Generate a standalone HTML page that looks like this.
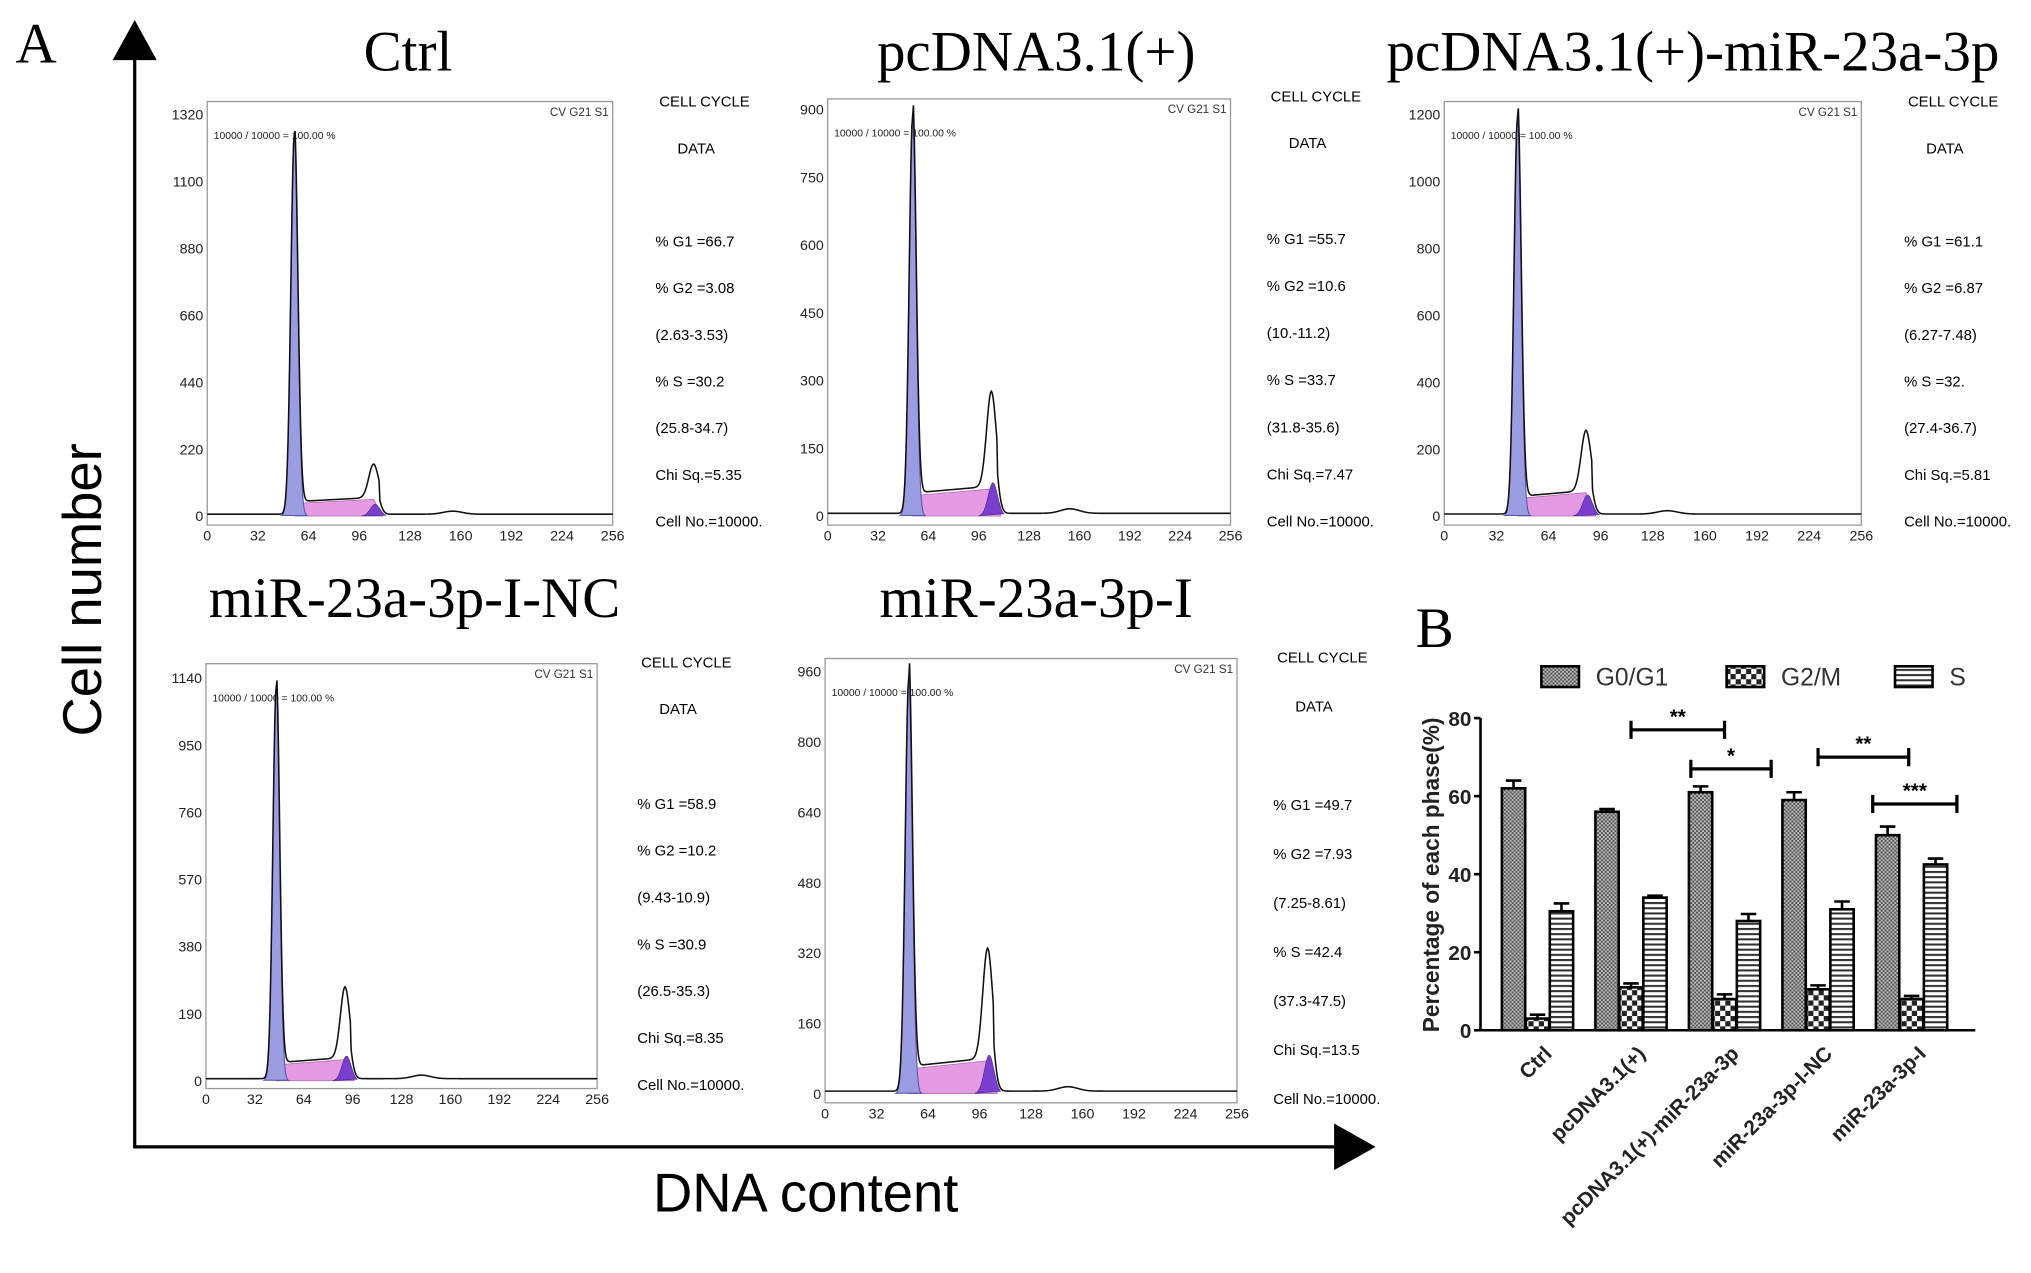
<!DOCTYPE html>
<html><head><meta charset="utf-8"><style>
html,body{margin:0;padding:0;background:#fff}
svg{display:block}
.serif{font-family:"Liberation Serif",serif}
.sans{font-family:"Liberation Sans",sans-serif}
</style></head><body>
<svg id="fig" width="2031" height="1273" viewBox="0 0 1568 982" xmlns="http://www.w3.org/2000/svg">
<defs>
<pattern id="pG1" width="3" height="3" patternUnits="userSpaceOnUse"><rect width="3" height="3" fill="#bbb"/><rect width="1.5" height="1.5" fill="#555"/><rect x="1.5" y="1.5" width="1.5" height="1.5" fill="#555"/></pattern>
<pattern id="pG2" width="8" height="8" patternUnits="userSpaceOnUse"><rect width="8" height="8" fill="#fff"/><rect width="4" height="4" fill="#222"/><rect x="4" y="4" width="4" height="4" fill="#222"/></pattern>
<pattern id="pS" width="4" height="4" patternUnits="userSpaceOnUse"><rect width="4" height="4" fill="#fff"/><rect width="4" height="1.6" fill="#333"/></pattern>
</defs>
<g id="panelA"></g>
<g id="panelB"></g>
</svg>
<script>
// ---- Panel B data ----
const categories = ["Ctrl","pcDNA3.1(+)","pcDNA3.1(+)-miR-23a-3p","miR-23a-3p-I-NC","miR-23a-3p-I"];
const seriesNames = ["G0/G1","G2/M","S"];
const g1Values = [62, 56, 61, 59, 50];
const g2Values = [3, 11, 8, 10.5, 8];
const sValues = [30.5, 34, 28, 31, 42.5];
const g1Err = [2, 0.7, 1.5, 2, 2.2];
const g2Err = [1, 1, 1.2, 1, 0.8];
const sErr = [2, 0.5, 1.8, 2, 1.5];
const yTicks = [0, 20, 40, 60, 80];
const sigLabels = ["**","*","**","***"];
const sigLevels = [77, 67, 70, 58];

// ---- Panel A data ----
const panelTitles = ["Ctrl","pcDNA3.1(+)","pcDNA3.1(+)-miR-23a-3p","miR-23a-3p-I-NC","miR-23a-3p-I"];
const histYTicks = [[0,220,440,660,880,1100,1320],[0,150,300,450,600,750,900],[0,200,400,600,800,1000,1200],[0,190,380,570,760,950,1140],[0,160,320,480,640,800,960]];
const xTicks = [0,32,64,96,128,160,192,224,256];
const g1Channel = [55, 54, 45, 46, 52];
const g2Channel = [105, 104, 87, 91, 101];
const g1Peak = [1250, 880, 1190, 1110, 940];
const g2Peak = [110, 210, 180, 200, 250];
const sLevel = [55, 60, 70, 60, 75];
const infoG1 = ["66.7","55.7","61.1","58.9","49.7"];
const infoG2 = ["3.08","10.6","6.87","10.2","7.93"];
const infoG2r = ["(2.63-3.53)","(10.-11.2)","(6.27-7.48)","(9.43-10.9)","(7.25-8.61)"];
const infoS = ["30.2","33.7","32.","30.9","42.4"];
const infoSr = ["(25.8-34.7)","(31.8-35.6)","(27.4-36.7)","(26.5-35.3)","(37.3-47.5)"];
const infoChi = ["5.35","7.47","5.81","8.35","13.5"];

const NS = "http://www.w3.org/2000/svg";
function mk(parent, tag, attrs, text){
  const e = document.createElementNS(NS, tag);
  for (const k in attrs) e.setAttribute(k, attrs[k]);
  if (text !== undefined) e.textContent = text;
  parent.appendChild(e); return e;
}
const A = document.getElementById('panelA');
const B = document.getElementById('panelB');

const frames = [
 {x0:160,x1:473,top:78,bot:405,y0:398,yTop:88,title:[315,40],info:[506,78,114,186]},
 {x0:639,x1:950,top:76,bot:405,y0:398,yTop:84,title:[800,40],info:[978,74,110,184]},
 {x0:1115,x1:1437,top:78,bot:405,y0:398,yTop:88,title:[1307,40],info:[1470,78,114,186]},
 {x0:159,x1:461,top:512,bot:840,y0:834,yTop:523,title:[320,462],info:[492,511,547,620]},
 {x0:637,x1:955,top:508,bot:851,y0:844,yTop:518,title:[800,462],info:[983,507,545,621]}
];

let e;
e = mk(A,'text',{x:12,y:48,'font-size':44,class:'serif'},'A');
 
e = mk(A,'line',{x1:104,y1:40,x2:104,y2:886,stroke:'#000','stroke-width':2.5});
 
e = mk(A,'polygon',{points:'104,15 87,46 121,46',fill:'#000'});
 
e = mk(A,'line',{x1:103,y1:885,x2:1035,y2:885,stroke:'#000','stroke-width':2.5});
 
e = mk(A,'polygon',{points:'1062,885 1030,867 1030,903',fill:'#000'});
 
e = mk(A,'text',{x:78,y:455,'font-size':42,class:'sans','text-anchor':'middle',transform:'rotate(-90 78 455)'},'Cell number');
 
e = mk(A,'text',{x:622,y:935,'font-size':42,class:'sans','text-anchor':'middle'},'DNA content');
 

function gauss(c, mu, sd){ return Math.exp(-0.5*((c-mu)/sd)**2); }

frames.forEach((f,i)=>{
  const g = mk(A,'g',{});
  
  
  const yMax = histYTicks[i][histYTicks[i].length-1];
  const sx = c => f.x0 + (c/256)*(f.x1-f.x0);
  const sy = v => f.y0 - (v/yMax)*(f.y0-f.yTop);
  e = mk(g,'text',{x:f.title[0],y:f.title[1]+14,'font-size':44,class:'serif','text-anchor':'middle'},panelTitles[i]);
   
  e = mk(g,'rect',{x:f.x0,y:f.top,width:f.x1-f.x0,height:f.bot-f.top,fill:'#fff',stroke:'#999','stroke-width':1});
   
  histYTicks[i].forEach(t=>{
    e = mk(g,'text',{x:f.x0-3,y:sy(t)+4,'font-size':11,class:'sans','text-anchor':'end',fill:'#222'},String(t));
     
  });
  xTicks.forEach(t=>{
    e = mk(g,'text',{x:sx(t),y:f.bot+12,'font-size':11,class:'sans','text-anchor':'middle',fill:'#222'},String(t));
     
  });
  e = mk(g,'text',{x:f.x1-3,y:f.top+11,'font-size':9,class:'sans','text-anchor':'end',fill:'#333'},'CV G21 S1');
   
  e = mk(g,'text',{x:f.x0+5,y:f.top+29,'font-size':8,class:'sans',fill:'#222'},'10000 / 10000 = 100.00 %');
   
  const m1=g1Channel[i], m2=g2Channel[i], sd1=2.2, sd2=3;
  let p=[]; for(let c=m1;c<=m2+6;c+=1){ const ramp = c<=m2 ? sLevel[i]*(0.75+0.25*(c-m1)/(m2-m1)) : sLevel[i]*Math.max(0,1-(c-m2)/6); p.push(sx(c)+','+sy(ramp)); }
  p.push(sx(m2+6)+','+sy(0)); p.push(sx(m1)+','+sy(0));
  e = mk(g,'polygon',{points:p.join(' '),fill:'#e59be3',stroke:'#a060a0','stroke-width':0.5});
   
  p=[]; for(let c=m2-8;c<=m2+8;c+=0.5){ p.push(sx(c)+','+sy(g2Peak[i]*0.35*gauss(c,m2+1,sd2))); }
  e = mk(g,'polygon',{points:p.join(' '),fill:'#7b3fcf',stroke:'#4a2a8a','stroke-width':0.5});
   
  p=[]; for(let c=m1-8;c<=m1+8;c+=0.25){ p.push(sx(c)+','+sy(g1Peak[i]*gauss(c,m1,sd1))); }
  e = mk(g,'polygon',{points:p.join(' '),fill:'#9c9ce2',stroke:'#5555aa','stroke-width':0.8});
   
  p=[]; for(let c=0;c<=256;c+=0.5){
    let v = g1Peak[i]*gauss(c,m1,sd1) + g2Peak[i]*gauss(c,m2,sd2);
    if(c>m1 && c<m2+4) v += sLevel[i]*(0.75+0.25*Math.min(1,(c-m1)/(m2-m1)));
    v += 6 + 10*gauss(c,m2+50,6);
    p.push(sx(c)+','+sy(v));
  }
  e = mk(g,'polyline',{points:p.join(' '),fill:'none',stroke:'#111','stroke-width':1.2});
   
  const ix=f.info[0];
  const step = (f.bot - 3 - f.info[3])/6;
  e = mk(g,'text',{x:ix+3,y:f.info[1]+4,'font-size':11.5,class:'sans'},'CELL  CYCLE');
   
  e = mk(g,'text',{x:ix+17,y:f.info[2]+4,'font-size':11.5,class:'sans'},'DATA');
   
  const rows=['% G1 ='+infoG1[i],'% G2 ='+infoG2[i],infoG2r[i],'% S  ='+infoS[i],infoSr[i],'Chi Sq.='+infoChi[i],'Cell No.=10000.'];
  rows.forEach((r,k)=>{
    e = mk(g,'text',{x:ix,y:f.info[3]+k*step+4,'font-size':11.5,class:'sans','xml:space':'preserve'},r);
     
  });
});

// ---- Panel B ----
const ax = {x0:1143, x1:1525, y0:795, y80:554};
const yS = v => ax.y0 - v/80*(ax.y0-ax.y80);
const groupX = i => 1187 + i*72.2;
const bw = 18, off = 18.5;
e = mk(B,'text',{x:1093,y:499,'font-size':44,class:'serif'},'B');
 
const legX=[1190,1333,1463], fills=['url(#pG1)','url(#pG2)','url(#pS)'];
seriesNames.forEach((n,k)=>{
  const lg = mk(B,'g',{});
   
  mk(lg,'rect',{x:legX[k],y:514,width:29,height:16,fill:fills[k],stroke:'#000','stroke-width':2});
  mk(lg,'text',{x:legX[k]+42,y:529,'font-size':19,class:'sans',fill:'#333'},n);
});
e = mk(B,'line',{x1:ax.x0,y1:ax.y80,x2:ax.x0,y2:ax.y0+1,stroke:'#000','stroke-width':2});
 
e = mk(B,'line',{x1:ax.x0,y1:ax.y0,x2:ax.x1,y2:ax.y0,stroke:'#000','stroke-width':2});
 
yTicks.forEach(t=>{
  mk(B,'line',{x1:ax.x0-5,y1:yS(t),x2:ax.x0,y2:yS(t),stroke:'#000','stroke-width':2});
  e = mk(B,'text',{x:ax.x0-7,y:yS(t)+6,'font-size':16,'font-weight':'bold',class:'sans','text-anchor':'end',fill:'#222'},String(t));
   
});
e = mk(B,'text',{x:1111,y:675,'font-size':17.5,'font-weight':'bold',class:'sans','text-anchor':'middle',transform:'rotate(-90 1111 675)',fill:'#222'},'Percentage of each phase(%)');
 
const series=[g1Values,g2Values,sValues], errs=[g1Err,g2Err,sErr];
categories.forEach((c,i)=>{
  series.forEach((vals,k)=>{
    const cx = groupX(i) + (k-1)*off;
    const bar = mk(B,'rect',{x:cx-bw/2,y:yS(vals[i]),width:bw,height:yS(0)-yS(vals[i]),fill:fills[k],stroke:'#000','stroke-width':2});
    
    
    const top = yS(vals[i]+errs[k][i]);
    const eb = mk(B,'path',{d:`M${cx},${yS(vals[i])} V${top} M${cx-6},${top} H${cx+6}`,stroke:'#000','stroke-width':2,fill:'none'});
     
  });
  const lx = groupX(i)+12, ly = 814;
  e = mk(B,'text',{x:lx,y:ly,'font-size':16,'font-weight':'bold',class:'sans','text-anchor':'end',transform:`rotate(-45 ${lx} ${ly})`,fill:'#222'},c);
   
});
const sigFrom=[groupX(1),groupX(2)-26,groupX(3),groupX(4)-30], sigTo=[groupX(2),groupX(2)+36,groupX(3)+70,groupX(4)+35];
sigLabels.forEach((s,k)=>{
  const y = yS(sigLevels[k]);
  const br = mk(B,'path',{d:`M${sigFrom[k]},${y-7} V${y+7} M${sigFrom[k]},${y} H${sigTo[k]} M${sigTo[k]},${y-7} V${y+7}`,stroke:'#000','stroke-width':2.5,fill:'none'});
   
  e = mk(B,'text',{x:(sigFrom[k]+sigTo[k])/2,y:y-5,'font-size':16,'font-weight':'bold',class:'sans','text-anchor':'middle'},s);
   
});
</script>
</body></html>
